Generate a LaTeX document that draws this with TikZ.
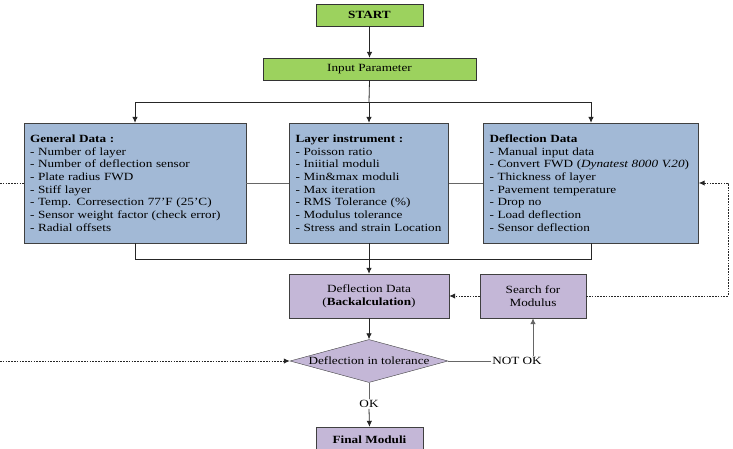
\documentclass[tikz,border=0pt]{standalone}
\usepackage{fontspec}
\setmainfont{Liberation Serif}[FakeStretch=1.2]
\usepackage{xcolor}
\usetikzlibrary{arrows.meta,positioning,shapes.geometric,calc}

\definecolor{greenfill}{HTML}{9CD25E}
\definecolor{bluefill}{HTML}{A2B9D6}
\definecolor{purplefill}{HTML}{C4B7D7}

\begin{document}
\begin{tikzpicture}[
  x=1pt, y=-1pt,
  >={Latex[length=6pt,width=5.5pt]},
  every node/.style={font=\fontsize{11}{12.7}\selectfont},
  startbox/.style={draw=black!80, fill=greenfill, minimum height=22pt,
    align=center, inner sep=0pt},
  databox/.style={draw=black!75, fill=bluefill, minimum height=120pt,
    text width=#1, inner xsep=6pt, align=left},
  procbox/.style={draw=black!75, fill=purplefill, minimum height=44pt,
    align=center, inner sep=0pt},
  decision/.style={diamond, draw=black!75, fill=purplefill, aspect=3.7,
    inner sep=0pt, minimum width=158pt, minimum height=43pt},
  flow/.style={draw=black!85, line width=0.8pt},
  link/.style={draw=black!60, line width=0.8pt},
  loop/.style={draw=black!85, line width=1pt, dash pattern=on 1.6pt off 1.2pt},
]
\useasboundingbox (0,0) rectangle (733,448);

% Start and input
\node[startbox, minimum width=107pt] (start) at (369.5,15) {\textbf{START}};
\node[startbox, minimum width=213pt] (input) at (369.5,69) {Input Parameter};

% Data boxes
\node[databox=210pt] (gen) at (135,183) {\textbf{General Data :}\\
  - Number of layer\\
  - Number of deflection sensor\\
  - Plate radius FWD\\
  - Stiff layer\\
  - Temp. Corresection 77'F (25'C)\\
  - Sensor weight factor (check error)\\
  - Radial offsets};
\node[databox=147pt] (lay) at (369,183) {\textbf{Layer instrument :}\\
  - Poisson ratio\\
  - Iniitial moduli\\
  - Min\&max moduli\\
  - Max iteration\\
  - RMS Tolerance (\%)\\
  - Modulus tolerance\\
  - Stress and strain Location};
\node[databox=203pt] (defl) at (591,183) {\textbf{Deflection Data}\\
  - Manual input data\\
  - Convert FWD (\textit{Dynatest 8000 V.20})\\
  - Thickness of layer\\
  - Pavement temperature\\
  - Drop no\\
  - Load deflection\\
  - Sensor deflection};

% Process
\node[procbox, minimum width=160pt] (back) at (369,296) {Deflection Data\\(\textbf{Backalculation})};
\node[procbox, minimum width=106pt] (search) at (533,296) {Search for\\Modulus};
\node[decision] (check) at (369,361) {Deflection in tolerance};
\node[inner sep=1pt] (notok) at (517,361) {NOT OK};
\node[inner sep=1pt] (ok) at (369,404) {OK};
\node[procbox, minimum width=107pt, minimum height=26pt] (final) at (369.5,440) {\textbf{Final Moduli}};

% Free ends of the loops
\coordinate (loopa) at (0,183);
\coordinate (loopb) at (0,361);
\coordinate (loopc) at (728,296);

% Arrows
\draw[flow, ->] (start) -- (input);
\draw[flow] (input.south) -- (369,102) coordinate (split);
\draw[flow, ->] (split) -| (gen.north);
\draw[flow, ->] (split) -| (defl.north);
\draw[flow, ->] (split) -- (lay.north);
\draw[link] (gen) -- (lay);
\draw[link] (lay) -- (defl);
\draw[flow] (gen.south) -- ++(0,16) -| (defl.south);
\draw[flow, ->] (lay.south) -- (back.north);
\draw[flow, ->] (back) -- (check);
\draw[link] (check.east) -- (notok.west);
\draw[link, ->] (notok.north -| search.south) -- (search.south);
\draw[link] (check.south) -- (ok.north);
\draw[flow, ->] (ok.south) -- (final.north);
\draw[loop, ->] (search) -- (back);
\draw[loop, ->] (search.east) -- (loopc) |- (defl.east);
\draw[loop] (loopa) -- (gen.west);
\draw[loop, ->] (loopb) -- (check.west);
\end{tikzpicture}
\end{document}
